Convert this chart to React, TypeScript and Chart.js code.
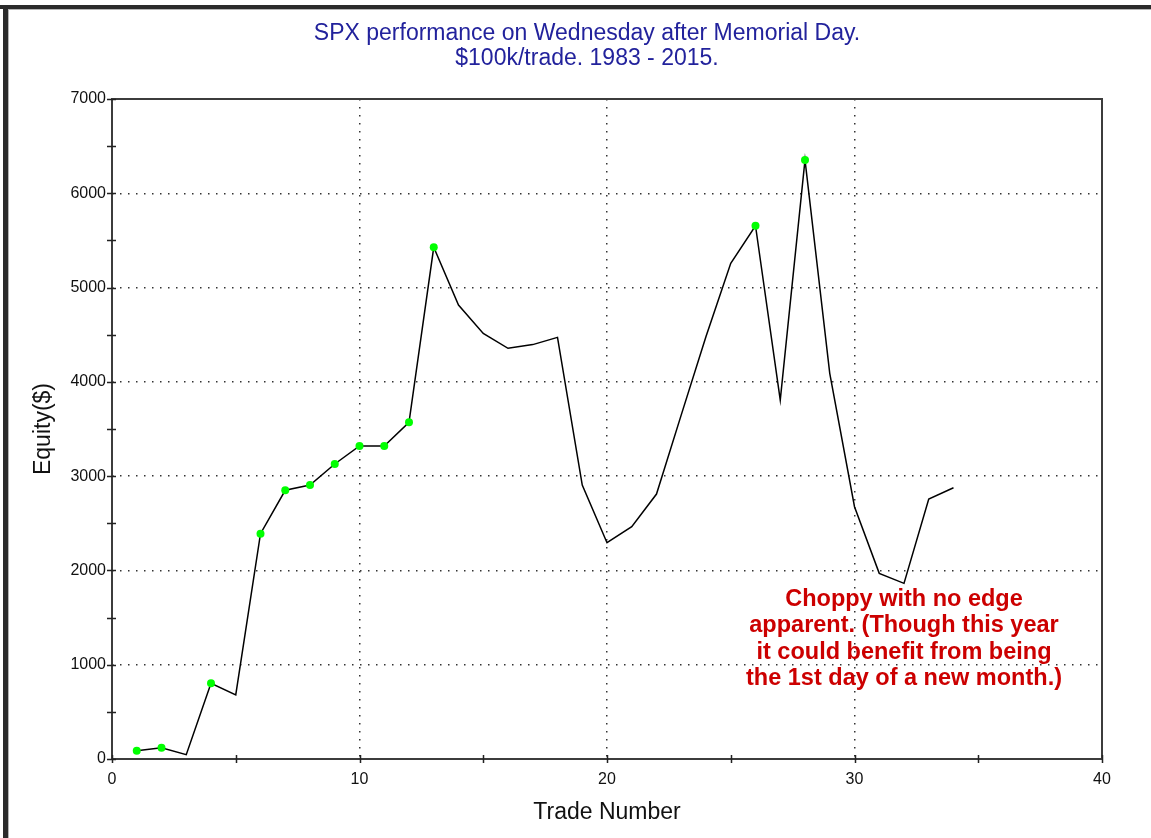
import React, { useEffect, useRef } from "react";
import { Chart, registerables } from "chart.js";

Chart.register(...registerables);

// ---- data ----
const tradeNumbers = [
  1, 2, 3, 4, 5, 6, 7, 8, 9, 10, 11, 12, 13, 14, 15, 16, 17, 18, 19, 20, 21, 22,
  23, 24, 25, 26, 27, 28, 29, 30, 31, 32, 33, 34,
];
const equity = [
  88, 120, 46, 803, 679, 2390, 2850, 2906, 3129, 3320, 3320, 3571, 5427, 4815,
  4514, 4356, 4395, 4472, 2906, 2294, 2464, 2810, 3650, 4480, 5257, 5656, 3807,
  6353, 4090, 2676, 1969, 1863, 2757, 2877,
];
const newHighTrades = [1, 2, 4, 6, 7, 8, 9, 10, 11, 12, 13, 26, 28];

const xMin = 0;
const xMax = 40;
const xStep = 5;
const xLabelStep = 10;
const yMin = 0;
const yMax = 7000;
const yStep = 500;
const yLabelStep = 1000;

const titleLines = [
  "SPX performance on Wednesday after Memorial Day.",
  "$100k/trade. 1983 - 2015.",
];
const xTitle = "Trade Number";
const yTitle = "Equity($)";
const noteLines = [
  "Choppy with no edge",
  "apparent. (Though this year",
  "it could benefit from being",
  "the 1st day of a new month.)",
];
const noteX = 32;
const noteY = 1690;

const FONT = '"Liberation Sans", Arial, Helvetica, sans-serif';

const decorPlugin = {
  id: "decor",
  afterDraw(chart: any) {
    const { ctx, chartArea } = chart;
    const { left, right, top, bottom } = chartArea;
    const xs = chart.scales.x;
    const ys = chart.scales.y;
    ctx.save();
    // frame
    ctx.strokeStyle = "#3c3c3c";
    ctx.lineWidth = 2;
    ctx.setLineDash([]);
    ctx.strokeRect(left, top, right - left, bottom - top);
    // tick marks crossing the axes
    ctx.lineWidth = 1.5;
    ctx.strokeStyle = "#222";
    ctx.beginPath();
    for (let v = yMin; v <= yMax; v += yStep) {
      const py = Math.round(ys.getPixelForValue(v)) + 0.5;
      ctx.moveTo(left - 5, py);
      ctx.lineTo(left + 4, py);
    }
    for (let v = xMin; v <= xMax; v += xStep) {
      const px = Math.round(xs.getPixelForValue(v)) + 0.5;
      ctx.moveTo(px, bottom - 4);
      ctx.lineTo(px, bottom + 4);
    }
    ctx.stroke();
    // title
    ctx.fillStyle = "#22229c";
    ctx.font = `23px ${FONT}`;
    ctx.textAlign = "center";
    ctx.textBaseline = "middle";
    ctx.fillText(titleLines[0], 587, 34);
    ctx.fillText(titleLines[1], 587, 59);
    // annotation
    ctx.fillStyle = "#cc0000";
    ctx.font = `bold 23.5px ${FONT}`;
    const nx = xs.getPixelForValue(noteX);
    const ny = ys.getPixelForValue(noteY);
    noteLines.forEach((t, i) => ctx.fillText(t, nx, ny + i * 26.3));
    ctx.restore();
  },
};

export default function App() {
  const ref = useRef<HTMLCanvasElement | null>(null);

  useEffect(() => {
    if (!ref.current) return;
    const points = tradeNumbers.map((t, i) => ({ x: t, y: equity[i] }));
    const radii = tradeNumbers.map((t) => (newHighTrades.includes(t) ? 4 : 0));
    const chart = new Chart(ref.current, {
      type: "line",
      data: {
        datasets: [
          {
            data: points,
            borderColor: "#000",
            borderWidth: 1.5,
            tension: 0,
            pointRadius: radii,
            pointHoverRadius: radii,
            pointBackgroundColor: "#00ff00",
            pointBorderWidth: 0,
            pointBorderColor: "#00ff00",
          },
        ],
      },
      options: {
        responsive: false,
        animation: false,
        devicePixelRatio: 1,
        layout: { padding: { left: 0, right: 49, top: 99, bottom: 0 } },
        plugins: {
          legend: { display: false },
          tooltip: { enabled: false },
          title: { display: false },
        },
        scales: {
          x: {
            type: "linear",
            min: xMin,
            max: xMax,
            afterFit: (s: any) => {
              s.height = 79;
            },
            ticks: {
              stepSize: xStep,
              autoSkip: false,
              maxRotation: 0,
              padding: 11,
              color: "#111",
              font: { family: FONT, size: 16 },
              callback: (v: any) => (Number(v) % xLabelStep === 0 ? String(v) : ""),
            },
            grid: {
              drawTicks: false,
              lineWidth: 1.5,
              color: (c: any) => {
                const v = c.tick ? c.tick.value : -1;
                return v % xLabelStep === 0 && v > xMin && v < xMax ? "#333" : "rgba(0,0,0,0)";
              },
            },
            border: { display: false, dash: [1.5, 6.5] },
            title: {
              display: true,
              text: xTitle,
              color: "#111",
              font: { family: FONT, size: 23, lineHeight: 1.2 },
              padding: { top: 0, bottom: 12 },
            },
          },
          y: {
            type: "linear",
            min: yMin,
            max: yMax,
            afterFit: (s: any) => {
              s.width = 112;
            },
            ticks: {
              stepSize: yStep,
              autoSkip: false,
              padding: 6,
              color: "#111",
              font: { family: FONT, size: 16 },
              callback: (v: any) => (Number(v) % yLabelStep === 0 ? String(v) : ""),
            },
            grid: {
              drawTicks: false,
              lineWidth: 1.5,
              color: (c: any) => {
                const v = c.tick ? c.tick.value : -1;
                return v % yLabelStep === 0 && v > yMin && v < yMax ? "#333" : "rgba(0,0,0,0)";
              },
            },
            border: { display: false, dash: [1.5, 6.5] },
            title: {
              display: true,
              text: yTitle,
              color: "#111",
              font: { family: FONT, size: 23, lineHeight: 1.2 },
              padding: { top: 30, bottom: 0 },
            },
          },
        },
      },
      plugins: [decorPlugin],
    });
    return () => chart.destroy();
  }, []);

  return (
    <div
      style={{
        position: "absolute",
        left: 0,
        top: 0,
        width: 1151,
        height: 838,
        background: "#fff",
        overflow: "hidden",
      }}
    >
      <canvas ref={ref} width={1151} height={838} style={{ position: "absolute", left: 0, top: 0 }} />
      <div style={{ position: "absolute", left: 0, top: 5, width: 1151, height: 4, background: "#2b2b2b" }} />
      <div style={{ position: "absolute", left: 3, top: 5, width: 5, height: 833, background: "#2b2b2b" }} />
      <div style={{ position: "absolute", left: 8, top: 9, width: 1143, height: 1, background: "#b4b4b4" }} />
      <div style={{ position: "absolute", left: 8, top: 9, width: 1, height: 829, background: "#b4b4b4" }} />
    </div>
  );
}
